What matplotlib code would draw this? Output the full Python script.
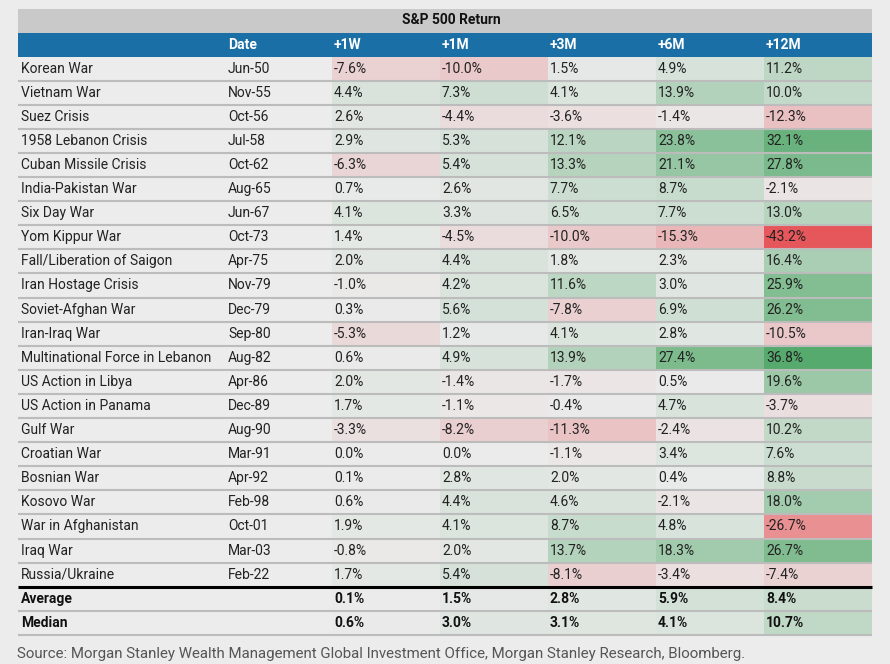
import numpy as np
import matplotlib
matplotlib.use('Agg')
import matplotlib.pyplot as plt
from matplotlib.colors import to_rgb

plt.rcParams['font.family'] = ['Roboto', 'DejaVu Sans']

TITLE = 'S&P 500 Return'
COLS = ['Date', '+1W', '+1M', '+3M', '+6M', '+12M']

events = ['Korean War', 'Vietnam War', 'Suez Crisis', '1958 Lebanon Crisis',
          'Cuban Missile Crisis', 'India-Pakistan War', 'Six Day War', 'Yom Kippur War',
          'Fall/Liberation of Saigon', 'Iran Hostage Crisis', 'Soviet-Afghan War',
          'Iran-Iraq War', 'Multinational Force in Lebanon', 'US Action in Libya',
          'US Action in Panama', 'Gulf War', 'Croatian War', 'Bosnian War', 'Kosovo War',
          'War in Afghanistan', 'Iraq War', 'Russia/Ukraine']
dates = ['Jun-50', 'Nov-55', 'Oct-56', 'Jul-58', 'Oct-62', 'Aug-65', 'Jun-67', 'Oct-73',
         'Apr-75', 'Nov-79', 'Dec-79', 'Sep-80', 'Aug-82', 'Apr-86', 'Dec-89', 'Aug-90',
         'Mar-91', 'Apr-92', 'Feb-98', 'Oct-01', 'Mar-03', 'Feb-22']
ret_1w = [-7.6, 4.4, 2.6, 2.9, -6.3, 0.7, 4.1, 1.4, 2.0, -1.0, 0.3, -5.3, 0.6, 2.0, 1.7,
          -3.3, 0.0, 0.1, 0.6, 1.9, -0.8, 1.7]
ret_1m = [-10.0, 7.3, -4.4, 5.3, 5.4, 2.6, 3.3, -4.5, 4.4, 4.2, 5.6, 1.2, 4.9, -1.4, -1.1,
          -8.2, 0.0, 2.8, 4.4, 4.1, 2.0, 5.4]
ret_3m = [1.5, 4.1, -3.6, 12.1, 13.3, 7.7, 6.5, -10.0, 1.8, 11.6, -7.8, 4.1, 13.9, -1.7,
          -0.4, -11.3, -1.1, 2.0, 4.6, 8.7, 13.7, -8.1]
ret_6m = [4.9, 13.9, -1.4, 23.8, 21.1, 8.7, 7.7, -15.3, 2.3, 3.0, 6.9, 2.8, 27.4, 0.5, 4.7,
          -2.4, 3.4, 0.4, -2.1, 4.8, 18.3, -3.4]
ret_12m = [11.2, 10.0, -12.3, 32.1, 27.8, -2.1, 13.0, -43.2, 16.4, 25.9, 26.2, -10.5, 36.8,
           19.6, -3.7, 10.2, 7.6, 8.8, 18.0, -26.7, 26.7, -7.4]
summary_labels = ['Average', 'Median']
summary_vals = [[0.1, 1.5, 2.8, 5.9, 8.4],
                [0.6, 3.0, 3.1, 4.1, 10.7]]
SOURCE = ('Source: Morgan Stanley Wealth Management Global Investment Office, '
          'Morgan Stanley Research, Bloomberg.')

BG = '#ececec'
NEUTRAL = np.array(to_rgb('#ebebeb'))
RED = np.array(to_rgb('#e6575b'))
GREEN = np.array(to_rgb('#57aa6d'))
VMIN, VMAX = -43.2, 36.8


def cell_color(v):
    # diverging scale: neutral at 0, full red at the min, full green at the max
    if v < 0:
        f = min(v / VMIN, 1.0)
        return NEUTRAL + f * (RED - NEUTRAL)
    f = min(v / VMAX, 1.0)
    return NEUTRAL + f * (GREEN - NEUTRAL)


W, H = 890, 664
fig = plt.figure(figsize=(W/100, H/100), dpi=100, facecolor=BG)
ax = fig.add_axes([0, 0, 1, 1])
ax.set_xlim(0, W); ax.set_ylim(H, 0); ax.axis('off')

x0, x1 = 18, 872
col_x = [226, 332, 440, 548, 656, 764]
val_x = col_x[1:]
rh = 24.1
fs = 10

# ── title and header bands ───────────────────────────────────────────────
ax.add_patch(plt.Rectangle((x0, 9), x1-x0, 23.5, color='#c9c9c9', lw=0))
ax.text((x0+x1)/2 + 6, 20.5, TITLE, ha='center', va='center', fontsize=fs,
        fontweight='bold', color='#111111')
ax.add_patch(plt.Rectangle((x0, 33), x1-x0, 23.5, color='#1a6fa7', lw=0))
for cx, c in zip(col_x, COLS):
    ax.text(cx + 2, 45, c, ha='left', va='center', fontsize=fs, fontweight='bold',
            color='white')

# ── data rows ────────────────────────────────────────────────────────────
top = 56.5
cols = [ret_1w, ret_1m, ret_3m, ret_6m, ret_12m]
for i, (name, d) in enumerate(zip(events, dates)):
    y = top + i*rh
    for j, vals in enumerate(cols):
        ax.add_patch(plt.Rectangle((val_x[j], y), 108, rh, color=cell_color(vals[i]), lw=0))
        ax.text(val_x[j] + 2, y + rh/2, f'{vals[i]:.1f}%', ha='left', va='center',
                fontsize=fs, color='#222222')
    ax.text(x0 + 3, y + rh/2, name, ha='left', va='center', fontsize=fs, color='#222222')
    ax.text(col_x[0] + 2, y + rh/2, d, ha='left', va='center', fontsize=fs, color='#222222')
    if i > 0:
        ax.plot([x0, x1], [y, y], color='#bcbcbc', lw=1.5, solid_capstyle='butt')

# ── summary rows ─────────────────────────────────────────────────────────
stop = top + len(events)*rh
for k, (lab, vals) in enumerate(zip(summary_labels, summary_vals)):
    y = stop + k*rh
    for j, v in enumerate(vals):
        ax.add_patch(plt.Rectangle((val_x[j], y), 108, rh, color=cell_color(v), lw=0))
        ax.text(val_x[j] + 2, y + rh/2, f'{v:.1f}%', ha='left', va='center',
                fontsize=fs, fontweight='bold', color='#111111')
    ax.text(x0 + 3, y + rh/2, lab, ha='left', va='center', fontsize=fs,
            fontweight='bold', color='#111111')
    ax.plot([x0, x1], [y + rh, y + rh], color='#bcbcbc', lw=1.5, solid_capstyle='butt')
ax.plot([x0, x1], [stop, stop], color='black', lw=2.2, solid_capstyle='butt')

ax.text(17, 654, SOURCE, ha='left', va='center', fontsize=10.8, color='#555555')

fig.savefig('out.png', dpi=100, facecolor=BG)
